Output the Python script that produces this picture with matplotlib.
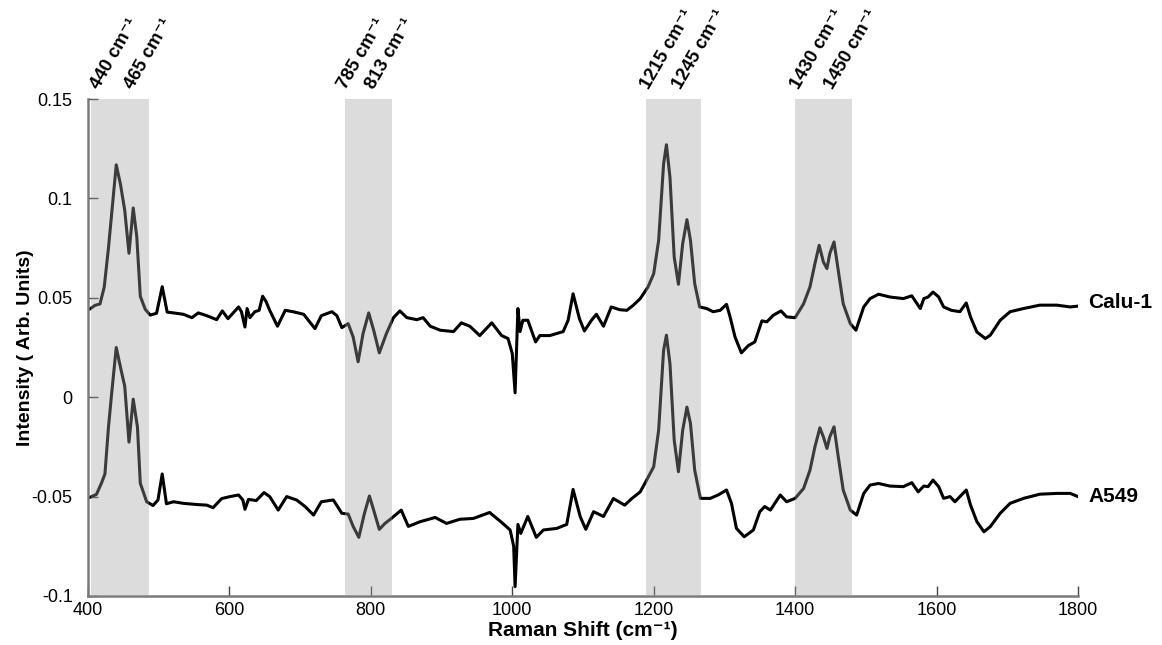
import matplotlib
matplotlib.use('Agg')
from matplotlib import pyplot as plt
import matplotlib.transforms as mtransforms

plt.rcParams['font.family'] = ['Liberation Sans', 'DejaVu Sans']

# Calu-1 spectrum (upper trace)
calu_x = [400, 402, 410, 417, 423, 429, 434, 440, 446, 452, 458, 464, 469, 474, 481, 488,
          497, 505, 512, 521, 535, 547, 556, 568, 582, 590, 598, 613, 617, 622, 625, 629,
          636, 642, 647, 652, 657, 668, 679, 690, 705, 721, 730, 745, 752, 759, 768, 775,
          782, 789, 797, 804, 812, 822, 832, 841, 851, 865, 874, 884, 898, 917, 928, 940,
          954, 971, 985, 994, 1000, 1004, 1008, 1011, 1015, 1022, 1033, 1039, 1053, 1072,
          1079, 1086, 1095, 1102, 1112, 1119, 1129, 1140, 1152, 1162, 1171, 1181, 1192,
          1200, 1207, 1214, 1218, 1223, 1229, 1235, 1241, 1247, 1252, 1258, 1265, 1275,
          1284, 1294, 1303, 1308, 1315, 1324, 1334, 1343, 1353, 1360, 1369, 1380, 1388,
          1400, 1412, 1421, 1428, 1434, 1440, 1445, 1449, 1455, 1461, 1468, 1478, 1486,
          1497, 1506, 1518, 1534, 1553, 1565, 1577, 1582, 1588, 1595, 1603, 1610, 1621,
          1633, 1642, 1648, 1657, 1669, 1676, 1690, 1704, 1723, 1746, 1770, 1789, 1800]
calu_y = [0.044, 0.0442, 0.0462, 0.0469, 0.0554, 0.0751, 0.094, 0.1169, 0.107, 0.094,
          0.0724, 0.0952, 0.0808, 0.0508, 0.0442, 0.0413, 0.0422, 0.0556, 0.0428, 0.0424,
          0.0417, 0.040, 0.0424, 0.041, 0.039, 0.0434, 0.0395, 0.0454, 0.043, 0.0353,
          0.0446, 0.040, 0.043, 0.0437, 0.0508, 0.048, 0.0437, 0.0357, 0.0437, 0.043,
          0.0417, 0.0345, 0.041, 0.043, 0.041, 0.035, 0.037, 0.0303, 0.0178, 0.032,
          0.0424, 0.0337, 0.0223, 0.032, 0.040, 0.0434, 0.040, 0.039, 0.040, 0.0357,
          0.0337, 0.033, 0.0374, 0.0357, 0.031, 0.0374, 0.031, 0.0295, 0.022, 0.0022,
          0.0446, 0.033, 0.0387, 0.0387, 0.0278, 0.031, 0.031, 0.033, 0.0387, 0.052,
          0.0395, 0.0333, 0.0387, 0.0417, 0.0357, 0.0454, 0.044, 0.0437, 0.0462, 0.0496,
          0.0555, 0.0621, 0.0789, 0.1174, 0.127, 0.1107, 0.0705, 0.0568, 0.0772, 0.0893,
          0.0789, 0.0571, 0.0454, 0.0446, 0.043, 0.0437, 0.0467, 0.0404, 0.0303, 0.0223,
          0.026, 0.0278, 0.0384, 0.0379, 0.0412, 0.0434, 0.0404, 0.040, 0.047, 0.0555,
          0.0672, 0.0764, 0.068, 0.0647, 0.0722, 0.0781, 0.0638, 0.047, 0.037, 0.0337,
          0.0454, 0.0496, 0.0518, 0.0504, 0.0496, 0.051, 0.0446, 0.0496, 0.0504, 0.0529,
          0.0504, 0.0454, 0.0437, 0.043, 0.0474, 0.0404, 0.0328, 0.0295, 0.0312, 0.0387,
          0.043, 0.0446, 0.0463, 0.0463, 0.0454, 0.0458]

# A549 spectrum (lower trace)
a549_x = [400, 412, 419, 424, 429, 434, 440, 446, 452, 458, 464, 470, 474, 483, 492, 499,
          505, 511, 521, 535, 554, 568, 577, 589, 601, 613, 619, 622, 627, 638, 649, 657,
          669, 681, 695, 707, 719, 730, 747, 759, 768, 775, 783, 791, 798, 804, 812, 820,
          829, 843, 853, 870, 891, 907, 926, 945, 968, 985, 997, 1002, 1004, 1008, 1012,
          1022, 1034, 1044, 1063, 1077, 1086, 1096, 1104, 1115, 1129, 1143, 1159, 1169,
          1181, 1190, 1200, 1207, 1214, 1218, 1223, 1229, 1235, 1241, 1247, 1252, 1258,
          1266, 1280, 1291, 1303, 1310, 1317, 1328, 1341, 1350, 1357, 1365, 1379, 1388,
          1400, 1412, 1421, 1428, 1435, 1440, 1445, 1449, 1455, 1461, 1468, 1478, 1487,
          1497, 1506, 1518, 1534, 1553, 1565, 1574, 1582, 1588, 1595, 1603, 1610, 1619,
          1626, 1642, 1648, 1657, 1667, 1676, 1690, 1704, 1723, 1746, 1770, 1789, 1800]
a549_y = [-0.0508, -0.0489, -0.0433, -0.0386, -0.0151, 0.0037, 0.025, 0.015, 0.0055,
          -0.0226, -0.001, -0.0151, -0.0433, -0.0526, -0.0545, -0.0517, -0.0386, -0.0536,
          -0.0526, -0.0534, -0.054, -0.0543, -0.0556, -0.051, -0.050, -0.0492, -0.0517,
          -0.0564, -0.0514, -0.052, -0.048, -0.050, -0.0568, -0.050, -0.0517, -0.055,
          -0.0593, -0.0526, -0.0517, -0.0584, -0.0588, -0.065, -0.0705, -0.0584, -0.0497,
          -0.0568, -0.0665, -0.0635, -0.061, -0.0568, -0.065, -0.0626, -0.0605, -0.0635,
          -0.0614, -0.061, -0.058, -0.063, -0.0668, -0.075, -0.0953, -0.064, -0.0685,
          -0.060, -0.0705, -0.0668, -0.066, -0.064, -0.0464, -0.060, -0.0665, -0.0576,
          -0.060, -0.051, -0.0543, -0.051, -0.0476, -0.0417, -0.035, -0.0166, 0.0236,
          0.0312, 0.0169, -0.0216, -0.0375, -0.0166, -0.005, -0.0132, -0.0367, -0.0509,
          -0.0509, -0.0492, -0.0467, -0.0534, -0.066, -0.0702, -0.0668, -0.0576, -0.055,
          -0.0568, -0.0492, -0.0526, -0.0509, -0.0459, -0.0367, -0.025, -0.0154, -0.020,
          -0.0258, -0.020, -0.0149, -0.030, -0.0467, -0.0568, -0.0593, -0.0484, -0.0442,
          -0.0434, -0.0447, -0.045, -0.043, -0.0476, -0.0447, -0.045, -0.0417, -0.045,
          -0.0509, -0.050, -0.0526, -0.0467, -0.0542, -0.0626, -0.0677, -0.0651, -0.0584,
          -0.0534, -0.0509, -0.0488, -0.0484, -0.0484, -0.050]

# highlighted bands and their peak labels
bands = [(405, 487), (763, 830), (1189, 1267), (1400, 1480)]
peak_labels = ['440', '465', '785', '813', '1215', '1245', '1430', '1450']
peak_label_x = [421, 469, 770, 809, 1198, 1244, 1410, 1459]

xticks = [400, 600, 800, 1000, 1200, 1400, 1600, 1800]
yticks = [-0.1, -0.05, 0, 0.05, 0.1, 0.15]
ytick_labels = ['-0.1', '-0.05', '0', '0.05', '0.1', '0.15']

fig = plt.figure(figsize=(11.62, 6.45), dpi=100)
ax = fig.add_axes([0.0757, 0.076, 0.852, 0.7705])

ax.plot(calu_x, calu_y, color='black', lw=2.2, zorder=2)
ax.plot(a549_x, a549_y, color='black', lw=2.2, zorder=2)

for lo, hi in bands:
    ax.axvspan(lo, hi, color='#a2a2a2', alpha=0.37, lw=0, zorder=3)

ax.set_xlim(400, 1800)
ax.set_ylim(-0.1, 0.15)
ax.set_xticks(xticks)
ax.set_xticklabels([str(t) for t in xticks])
ax.set_yticks(yticks)
ax.set_yticklabels(ytick_labels)

for s in ['top', 'right']:
    ax.spines[s].set_visible(False)
for s in ['left', 'bottom']:
    ax.spines[s].set_color('#7a7a7a')
    ax.spines[s].set_linewidth(1.8)

ax.tick_params(axis='both', direction='in', length=7, width=1, color='#444444',
               labelsize=13, labelcolor='black')
ax.tick_params(axis='x', pad=4)
ax.tick_params(axis='y', pad=11)

ax.set_xlabel('Raman Shift (cm\u207b\u00b9)', fontsize=15, fontweight='bold')
ax.xaxis.label.set_va('center')
ax.xaxis.set_label_coords(0.5, -0.07)
ax.set_ylabel('Intensity ( Arb. Units)', fontsize=14, fontweight='bold')
ax.yaxis.label.set_va('center')
ax.yaxis.set_label_coords(-0.063, 0.5)

trans = mtransforms.blended_transform_factory(ax.transData, ax.transAxes)
for lab, xp in zip(peak_labels, peak_label_x):
    ax.text(xp, 1.015, lab + ' cm\u207b\u00b9', transform=trans, rotation=60,
            rotation_mode='anchor', ha='left', va='bottom', fontsize=13.3,
            fontweight='bold', clip_on=False)

ax.text(1815, calu_y[-1] + 0.002, 'Calu-1', fontsize=15, fontweight='bold',
        ha='left', va='center', clip_on=False)
ax.text(1815, a549_y[-1], 'A549', fontsize=15, fontweight='bold',
        ha='left', va='center', clip_on=False)

plt.savefig('out.png', dpi=100)
